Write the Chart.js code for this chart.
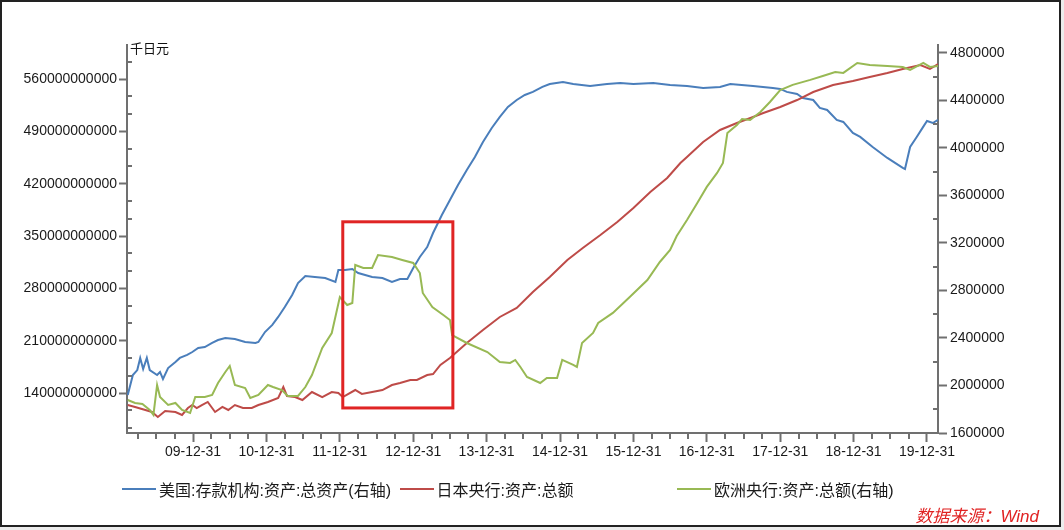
<!DOCTYPE html>
<html lang="zh-CN">
<head>
<meta charset="utf-8">
<title>央行资产负债表</title>
<script src="https://cdn.jsdelivr.net/npm/chart.js@4.4.1/dist/chart.umd.min.js"></script>
<style>
  html, body { margin: 0; padding: 0; background: #ececec; }
  #frame { position: relative; width: 1064px; height: 530px; overflow: hidden; }
  #panel { position: absolute; left: 0; top: 0; width: 1061px; height: 527px; box-sizing: border-box;
           border: 2px solid #222; background: #fff; }
  #chart { position: absolute; left: 0; top: 0; }
  #unit { position: absolute; left: 130px; top: 38px; font: 13px "Liberation Sans", "Noto Sans CJK SC", sans-serif; color: #111; }
  #legend { position: absolute; left: 122px; top: 477px; display: flex; }
  .item { width: 277.5px; display: flex; align-items: center; font: 16px "Liberation Sans", "Noto Sans CJK SC", sans-serif; color: #1a1a1a; white-space: nowrap; }
  .item i { display: inline-block; width: 34px; height: 2px; margin-right: 3px; }
  #source { position: absolute; right: 25px; top: 502px; font: italic 17px "Liberation Sans", "Noto Sans CJK SC", sans-serif; color: #e02222; }
</style>
</head>
<body>
<div id="frame">
  <div id="panel"></div>
  <canvas id="chart" width="1064" height="530"></canvas>
  <div id="unit">千日元</div>
  <div id="legend"></div>
  <div id="source">数据来源：Wind</div>
</div>
<script>
const seriesNames = ['美国:存款机构:资产:总资产(右轴)', '日本央行:资产:总额', '欧洲央行:资产:总额(右轴)'];
const seriesColors = ['#4a7ebb', '#be4b48', '#98b954'];

// x values are decimal years
const xTickValues = [2010, 2011, 2012, 2013, 2014, 2015, 2016, 2017, 2018, 2019, 2020];
const xTickLabels = ['09-12-31', '10-12-31', '11-12-31', '12-12-31', '13-12-31', '14-12-31',
                     '15-12-31', '16-12-31', '17-12-31', '18-12-31', '19-12-31'];
const leftTicks = [140e9, 210e9, 280e9, 350e9, 420e9, 490e9, 560e9];
const rightTicks = [1600000, 2000000, 2400000, 2800000, 3200000, 3600000, 4000000, 4400000, 4800000];

// US (right axis)
const usDates = [2009.11, 2009.18, 2009.24, 2009.28, 2009.32, 2009.37, 2009.41, 2009.51, 2009.55, 2009.59,
  2009.66, 2009.76, 2009.82, 2009.92, 2009.99, 2010.07, 2010.16, 2010.26, 2010.34, 2010.44,
  2010.57, 2010.71, 2010.85, 2010.89, 2010.98, 2011.08, 2011.16, 2011.25, 2011.35, 2011.43,
  2011.53, 2011.66, 2011.80, 2011.94, 2011.98, 2012.07, 2012.17, 2012.25, 2012.44, 2012.58,
  2012.71, 2012.82, 2012.92, 2013.00, 2013.09, 2013.19, 2013.27, 2013.39, 2013.50, 2013.61,
  2013.73, 2013.84, 2013.95, 2014.07, 2014.18, 2014.29, 2014.41, 2014.52, 2014.63, 2014.76,
  2014.86, 2015.04, 2015.18, 2015.41, 2015.64, 2015.82, 2016.00, 2016.27, 2016.50, 2016.73,
  2016.95, 2017.18, 2017.32, 2017.63, 2017.90, 2018.00, 2018.09, 2018.23, 2018.31, 2018.45,
  2018.54, 2018.64, 2018.77, 2018.86, 2018.99, 2019.09, 2019.26, 2019.46, 2019.67, 2019.70,
  2019.77, 2019.86, 2019.95, 2020.00, 2020.08, 2020.15];
const usAssets = [1920000, 2088000, 2130000, 2232000, 2139000, 2232000, 2130000, 2088000, 2114000, 2055000,
  2147000, 2198000, 2232000, 2257000, 2282000, 2316000, 2324000, 2358000, 2383000, 2400000,
  2392000, 2366000, 2358000, 2366000, 2450000, 2510000, 2577000, 2661000, 2762000, 2863000,
  2922000, 2914000, 2905000, 2872000, 2973000, 2973000, 2981000, 2947000, 2914000, 2905000,
  2872000, 2897000, 2897000, 2990000, 3082000, 3166000, 3284000, 3436000, 3562000, 3688000,
  3815000, 3924000, 4050000, 4168000, 4261000, 4345000, 4404000, 4446000, 4472000, 4514000,
  4539000, 4556000, 4539000, 4522000, 4539000, 4547000, 4539000, 4547000, 4530000, 4522000,
  4505000, 4514000, 4539000, 4522000, 4505000, 4497000, 4472000, 4455000, 4421000, 4404000,
  4337000, 4320000, 4236000, 4219000, 4126000, 4093000, 4008000, 3916000, 3832000, 3823000,
  4008000, 4093000, 4180000, 4227000, 4210000, 4236000];

// Japan (left axis)
const jpDates = [2009.11, 2009.21, 2009.35, 2009.44, 2009.52, 2009.62, 2009.76, 2009.85, 2009.93, 2009.99,
  2010.05, 2010.12, 2010.20, 2010.30, 2010.40, 2010.48, 2010.57, 2010.68, 2010.80, 2010.89,
  2011.02, 2011.16, 2011.23, 2011.28, 2011.39, 2011.49, 2011.62, 2011.76, 2011.89, 2011.98,
  2012.04, 2012.21, 2012.30, 2012.44, 2012.58, 2012.71, 2012.82, 2012.96, 2013.05, 2013.19,
  2013.27, 2013.37, 2013.50, 2013.73, 2013.95, 2014.18, 2014.41, 2014.63, 2014.86, 2015.10,
  2015.31, 2015.55, 2015.78, 2016.00, 2016.23, 2016.46, 2016.64, 2016.73, 2016.95, 2017.18,
  2017.41, 2017.63, 2017.77, 2018.00, 2018.23, 2018.45, 2018.72, 2018.99, 2019.22, 2019.46,
  2019.67, 2019.91, 2020.04, 2020.15];
const jpAssets = [123.9e9, 121.3e9, 117.3e9, 114.6e9, 107.9e9, 115.9e9, 114.6e9, 110.6e9, 119.9e9, 123.9e9,
  119.9e9, 123.9e9, 128.0e9, 114.6e9, 121.3e9, 117.3e9, 123.9e9, 119.9e9, 119.9e9, 123.9e9,
  128.0e9, 133.3e9, 148.0e9, 136.0e9, 134.6e9, 130.6e9, 141.3e9, 134.6e9, 141.3e9, 140.0e9,
  134.6e9, 144.0e9, 138.7e9, 141.3e9, 144.0e9, 150.7e9, 153.4e9, 157.4e9, 157.4e9, 164.1e9,
  165.4e9, 177.5e9, 186.8e9, 206.9e9, 224.3e9, 241.7e9, 253.7e9, 275.1e9, 295.2e9, 317.9e9,
  334.0e9, 351.3e9, 368.7e9, 387.5e9, 408.9e9, 427.6e9, 447.6e9, 455.7e9, 475.7e9, 491.8e9,
  501.2e9, 509.2e9, 514.5e9, 522.6e9, 531.9e9, 542.6e9, 552.0e9, 557.3e9, 562.7e9, 568.0e9,
  573.4e9, 578.7e9, 573.4e9, 580.1e9];

// Euro area (right axis)
const euDates = [2009.11, 2009.21, 2009.31, 2009.41, 2009.46, 2009.51, 2009.55, 2009.66, 2009.76, 2009.85,
  2009.96, 2010.03, 2010.16, 2010.26, 2010.34, 2010.44, 2010.50, 2010.57, 2010.71, 2010.78,
  2010.89, 2011.02, 2011.09, 2011.21, 2011.29, 2011.43, 2011.53, 2011.62, 2011.76, 2011.89,
  2012.00, 2012.10, 2012.17, 2012.21, 2012.32, 2012.44, 2012.52, 2012.71, 2012.85, 2013.00,
  2013.09, 2013.13, 2013.26, 2013.41, 2013.50, 2013.53, 2013.73, 2014.01, 2014.18, 2014.32,
  2014.39, 2014.46, 2014.55, 2014.73, 2014.82, 2014.96, 2015.03, 2015.18, 2015.23, 2015.30,
  2015.45, 2015.52, 2015.72, 2015.95, 2016.19, 2016.36, 2016.50, 2016.59, 2016.73, 2016.87,
  2017.00, 2017.14, 2017.22, 2017.28, 2017.41, 2017.48, 2017.59, 2017.73, 2017.86, 2018.00,
  2018.17, 2018.41, 2018.58, 2018.75, 2018.86, 2019.05, 2019.22, 2019.46, 2019.67, 2019.77,
  2019.95, 2020.04, 2020.15];
const euAssets = [1878000, 1853000, 1844000, 1794000, 1752000, 2004000, 1903000, 1836000, 1853000, 1794000,
  1768000, 1903000, 1903000, 1920000, 2021000, 2114000, 2164000, 2004000, 1979000, 1895000,
  1920000, 2004000, 1987000, 1962000, 1912000, 1912000, 1987000, 2088000, 2316000, 2442000,
  2745000, 2678000, 2695000, 3015000, 2990000, 2990000, 3099000, 3082000, 3057000, 3032000,
  2947000, 2779000, 2661000, 2594000, 2552000, 2425000, 2358000, 2282000, 2198000, 2190000,
  2215000, 2156000, 2072000, 2021000, 2063000, 2063000, 2215000, 2173000, 2156000, 2358000,
  2442000, 2526000, 2611000, 2745000, 2888000, 3040000, 3141000, 3259000, 3394000, 3537000,
  3672000, 3790000, 3874000, 4126000, 4194000, 4244000, 4236000, 4303000, 4387000, 4488000,
  4531000, 4573000, 4606000, 4640000, 4632000, 4716000, 4699000, 4691000, 4682000, 4657000,
  4716000, 4682000, 4691000];

// red box drawn in data units of the x axis and left axis
const highlightBox = { xMin: 2012.04, xMax: 2013.54, yMin: 120e9, yMax: 369e9 };

const axisColor = '#707070';
const tickFont = { family: '"Liberation Sans", "Noto Sans CJK SC", sans-serif', size: 14 };

const toPoints = (xs, ys) => xs.map((x, i) => ({ x, y: ys[i] }));

const minorTicks = {
    id: 'minorTicks',
    afterDraw(chart) {
        const { ctx, chartArea, scales } = chart;
        ctx.save();
        ctx.strokeStyle = axisColor;
        ctx.lineWidth = 2;
        ctx.beginPath();
        // x axis: quarters, downward
        const x = scales.x;
        for (let v = Math.ceil(x.min * 4) / 4; v <= x.max; v += 0.25) {
            if (Number.isInteger(v)) continue;
            const px = Math.round(x.getPixelForValue(v));
            ctx.moveTo(px, chartArea.bottom);
            ctx.lineTo(px, chartArea.bottom + 6);
        }
        // left axis: thirds of each step, inside
        const yl = scales.y;
        const stepL = (leftTicks[1] - leftTicks[0]) / 3;
        for (let v = leftTicks[0] - 2 * stepL; v <= yl.max; v += stepL) {
            if (leftTicks.some(t => Math.abs(t - v) < 1)) continue;
            if (v < yl.min) continue;
            const py = Math.round(yl.getPixelForValue(v));
            ctx.moveTo(chartArea.left, py);
            ctx.lineTo(chartArea.left + 5, py);
        }
        // right axis: halves, inside
        const yr = scales.y1;
        const stepR = (rightTicks[1] - rightTicks[0]) / 2;
        for (let v = rightTicks[0] + stepR; v <= yr.max; v += 2 * stepR) {
            const py = Math.round(yr.getPixelForValue(v));
            ctx.moveTo(chartArea.right, py);
            ctx.lineTo(chartArea.right - 5, py);
        }
        ctx.stroke();
        ctx.restore();
    }
};

const boxPlugin = {
    id: 'highlightBox',
    afterDatasetsDraw(chart) {
        const { ctx, scales } = chart;
        const x0 = scales.x.getPixelForValue(highlightBox.xMin);
        const x1 = scales.x.getPixelForValue(highlightBox.xMax);
        const y0 = scales.y.getPixelForValue(highlightBox.yMax);
        const y1 = scales.y.getPixelForValue(highlightBox.yMin);
        ctx.save();
        ctx.strokeStyle = '#e02424';
        ctx.lineWidth = 3;
        ctx.strokeRect(x0, y0, x1 - x0, y1 - y0);
        ctx.restore();
    }
};

const chart = new Chart(document.getElementById('chart'), {
    type: 'line',
    data: {
        datasets: [
            { label: seriesNames[0], data: toPoints(usDates, usAssets), yAxisID: 'y1', borderColor: seriesColors[0], order: 2 },
            { label: seriesNames[1], data: toPoints(jpDates, jpAssets), yAxisID: 'y', borderColor: seriesColors[1], order: 1 },
            { label: seriesNames[2], data: toPoints(euDates, euAssets), yAxisID: 'y1', borderColor: seriesColors[2], order: 0 }
        ].map(ds => ({ ...ds, borderWidth: 2, pointRadius: 0, tension: 0, fill: false }))
    },
    options: {
        responsive: false,
        animation: false,
        devicePixelRatio: 1,
        layout: { padding: { top: 45, left: 0, right: 0, bottom: 0 } },
        plugins: { legend: { display: false }, tooltip: { enabled: false } },
        scales: {
            x: {
                type: 'linear',
                min: 2009.10,
                max: 2020.15,
                afterBuildTicks: scale => { scale.ticks = xTickValues.map(value => ({ value })); },
                afterFit: scale => { scale.height = 97; },
                ticks: {
                    autoSkip: false,
                    maxRotation: 0,
                    padding: 2,
                    color: '#1a1a1a',
                    font: tickFont,
                    callback: value => xTickLabels[xTickValues.indexOf(value)]
                },
                grid: { drawOnChartArea: false, drawTicks: true, tickLength: 9, tickColor: axisColor, tickWidth: 2 },
                border: { color: axisColor, width: 2 }
            },
            y: {
                position: 'left',
                min: 86.5e9,
                max: 605.5e9,
                afterBuildTicks: scale => { scale.ticks = leftTicks.map(value => ({ value })); },
                afterFit: scale => { scale.width = 127; },
                ticks: { padding: 2, color: '#1a1a1a', font: tickFont, callback: value => String(value) },
                grid: { drawOnChartArea: false, drawTicks: true, tickLength: 8, tickColor: axisColor, tickWidth: 2 },
                border: { color: axisColor, width: 2 }
            },
            y1: {
                position: 'right',
                min: 1600000,
                max: 4867000,
                afterBuildTicks: scale => { scale.ticks = rightTicks.map(value => ({ value })); },
                afterFit: scale => { scale.width = 126; },
                ticks: { padding: 3, color: '#1a1a1a', font: tickFont, callback: value => String(value) },
                grid: { drawOnChartArea: false, drawTicks: true, tickLength: 9, tickColor: axisColor, tickWidth: 2 },
                border: { color: axisColor, width: 2 }
            }
        }
    },
    plugins: [minorTicks, boxPlugin]
});

// legend in three fixed-width columns
const legend = document.getElementById('legend');
chart.data.datasets.forEach(ds => {
    const item = document.createElement('div');
    item.className = 'item';
    const swatch = document.createElement('i');
    swatch.style.background = ds.borderColor;
    item.appendChild(swatch);
    item.appendChild(document.createTextNode(ds.label));
    legend.appendChild(item);
});
</script>
</body>
</html>
